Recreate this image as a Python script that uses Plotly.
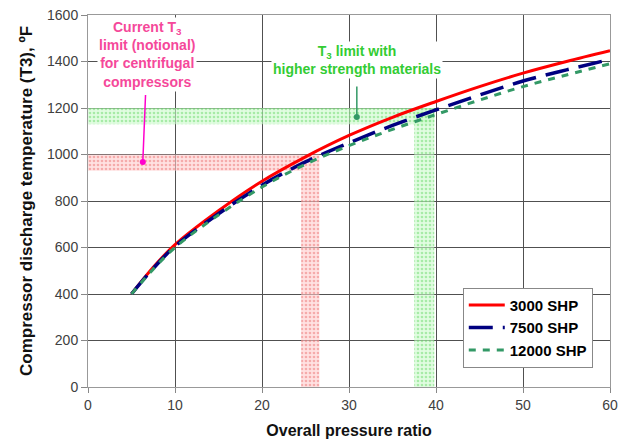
import plotly.graph_objects as go

# Data
pressure_ratio = [5, 7.5, 10, 15, 20, 25, 30, 35, 40, 45, 50, 55, 60]
t3_3000 = [400, 515, 612, 758, 885, 990, 1082, 1160, 1228, 1292, 1350, 1400, 1446]
t3_7500 = [400, 510, 605, 745, 868, 968, 1050, 1125, 1192, 1256, 1316, 1364, 1409]
t3_12000 = [400, 507, 600, 740, 860, 958, 1038, 1108, 1172, 1234, 1292, 1342, 1390]
series_names = ["3000 SHP", "7500 SHP", "12000 SHP"]

# limit bands: (x0, x1, y0, y1)
current_limit_h = [0, 24.5, 930, 1000]
current_limit_v = [24.5, 26.6, 0, 1000]
future_limit_h = [0, 39.8, 1130, 1200]
future_limit_v = [37.5, 39.8, 0, 1200]

fig = go.Figure()

def band(b, fg, bg):
    x0, x1, y0, y1 = b
    fig.add_trace(go.Scatter(
        x=[x0, x1, x1, x0, x0], y=[y0, y0, y1, y1, y0],
        fill="toself", mode="lines", line=dict(width=0),
        fillcolor=bg,
        fillpattern=dict(shape=".", fgcolor=fg, bgcolor=bg, size=4, solidity=0.35),
        showlegend=False, hoverinfo="skip"))

band(current_limit_h, "rgba(230,90,90,0.8)", "rgba(255,205,205,0.6)")
band(current_limit_v, "rgba(230,90,90,0.8)", "rgba(255,205,205,0.6)")
band(future_limit_h, "rgba(80,210,80,0.8)", "rgba(205,250,205,0.6)")
band(future_limit_v, "rgba(80,210,80,0.8)", "rgba(205,250,205,0.6)")

fig.add_trace(go.Scatter(x=pressure_ratio, y=t3_3000, name=series_names[0], mode="lines",
                         line=dict(color="#FF0000", width=3, shape="spline")))
fig.add_trace(go.Scatter(x=pressure_ratio, y=t3_7500, name=series_names[1], mode="lines",
                         line=dict(color="#000080", width=3.5, dash="24px,10px", shape="spline")))
fig.add_trace(go.Scatter(x=pressure_ratio, y=t3_12000, name=series_names[2], mode="lines",
                         line=dict(color="#339966", width=3, dash="7px,7px", shape="spline")))

font_fam = "Liberation Sans, Arial, sans-serif"

fig.add_annotation(x=6.3, y=968, ax=6.8, ay=1428, axref="x", ayref="y",
                   text="<b>Current T<sub>3</sub><br>limit (notional)<br>for centrifugal<br>compressors</b>",
                   showarrow=True, arrowhead=6, arrowsize=1, arrowwidth=1.5, arrowcolor="#FF00CC",
                   standoff=0, startstandoff=3,
                   font=dict(family=font_fam, size=14, color="#F5489A"),
                   bgcolor="white", borderpad=1)
fig.add_annotation(x=30.9, y=1161, ax=30.9, ay=1406, axref="x", ayref="y",
                   text="<b>T<sub>3</sub> limit with<br>higher strength materials</b>",
                   showarrow=True, arrowhead=6, arrowsize=1, arrowwidth=1.5, arrowcolor="#339966",
                   standoff=0, startstandoff=8,
                   font=dict(family=font_fam, size=14, color="#33CC33"),
                   bgcolor="white", borderpad=1)

fig.update_layout(
    width=632, height=443,
    margin=dict(l=80, r=30, t=7, b=64),
    paper_bgcolor="white", plot_bgcolor="white",
    font=dict(family=font_fam, size=14, color="#404040"),
    showlegend=True,
    legend=dict(x=0.967, y=0.159, xanchor="right", yanchor="middle",
                bgcolor="white", bordercolor="#888888", borderwidth=1,
                font=dict(family=font_fam, size=15, color="black", weight="bold"),
                tracegroupgap=0, itemwidth=36),
    xaxis=dict(range=[0, 60], dtick=10, showgrid=True, gridcolor="#505050", gridwidth=1,
               showline=True, linecolor="#999999", mirror=True, ticks="outside", ticklen=5,
               tickcolor="#888888", zeroline=False, automargin=False, ticklabeloverflow="allow",
               title=dict(text="<b>Overall pressure ratio</b>", font=dict(size=16, color="#111111"), standoff=13)),
    yaxis=dict(range=[0, 1600], dtick=200, showgrid=True, gridcolor="#505050", gridwidth=1,
               showline=True, linecolor="#999999", mirror=True, ticks="outside", ticklen=6,
               tickcolor="#888888", zeroline=False, automargin=False, ticklabeloverflow="allow",
               title=dict(text="<b>Compressor discharge temperature (T3), ºF</b>", font=dict(size=17, color="#111111"), standoff=10)),
)

fig.write_html("out.html")
